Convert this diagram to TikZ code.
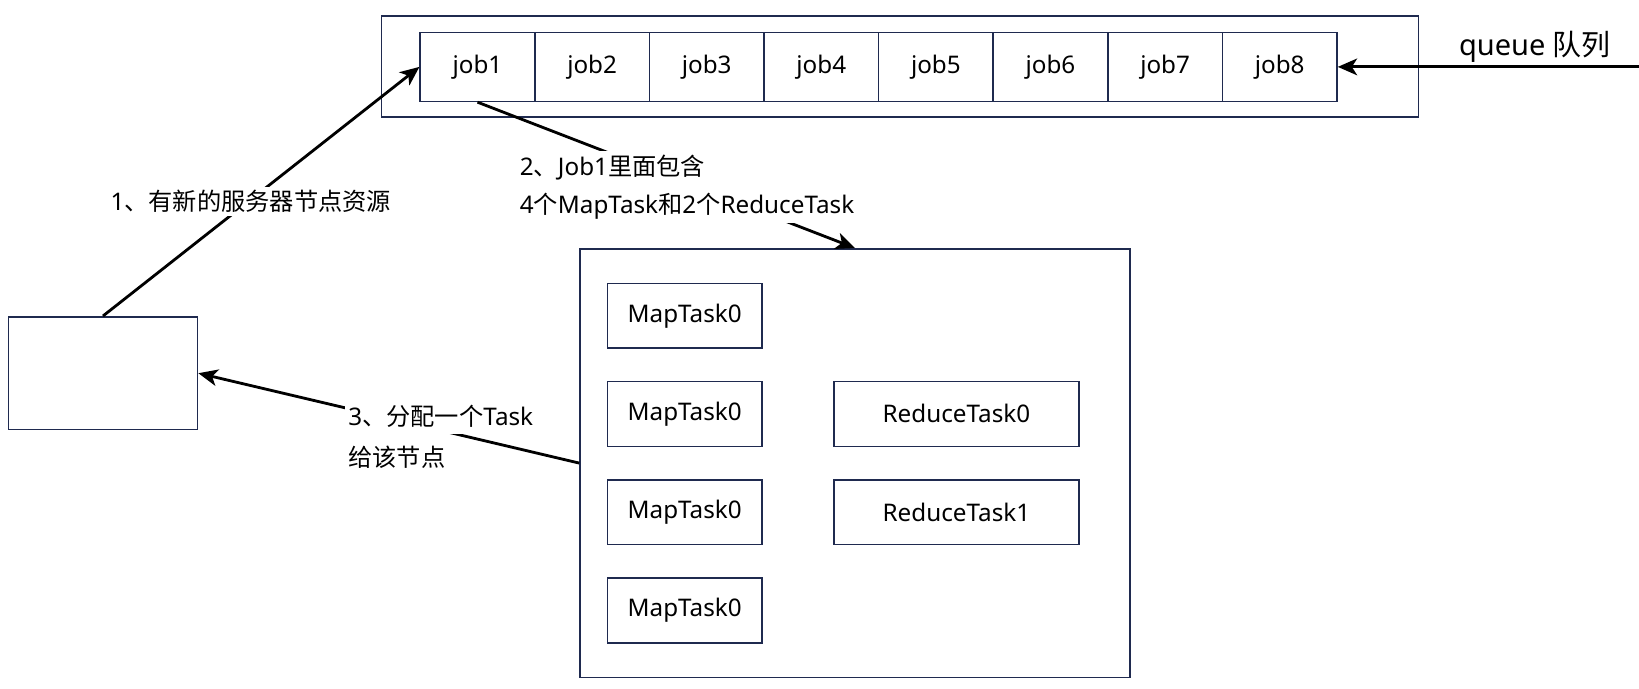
\documentclass[tikz,border=0pt]{standalone}
\usepackage{fontspec}
\setmainfont{Noto Sans}
\newfontfamily\cjk{Noto Sans CJK SC}
\usetikzlibrary{arrows.meta}
\definecolor{boxline}{HTML}{1F2A4F}

\begin{document}
\begin{tikzpicture}[x=0.02cm,y=-0.02cm,
  box/.style={draw=boxline,line width=0.9pt,inner sep=0pt,font=\fontsize{13.8}{22}\selectfont},
  job node/.style={box,minimum width=2.292cm,minimum height=1.38cm},
  map node/.style={box,minimum width=3.094cm,minimum height=1.296cm},
  reduce node/.style={box,minimum width=4.896cm,minimum height=1.296cm},
  arrow/.style={-{Stealth[length=11pt,width=9.5pt,inset=3pt]},line width=1.6pt,black},
  lbl/.style={fill=white,inner sep=2pt,align=left,font=\fontsize{13.8}{22}\selectfont}]

\useasboundingbox (0,0) rectangle (1639,689);

% queue of jobs
\node at (900,66.4) [box,minimum width=20.74cm,minimum height=2.026cm] (queue) {};
\foreach \i in {1,...,8}
  \node at ({420.2+114.6*(\i-0.5)},66.9) [job node] (job\i) {job\i};
\node at (1535,47) [font=\fontsize{16.5}{18}\selectfont] (qname) {queue {\cjk 队列}};
\coordinate (qin) at (1639,66.9);

% server node and the job's tasks
\node at (103,373.2) [box,minimum width=3.784cm,minimum height=2.258cm] (server) {};
\node at (855,463.1) [box,minimum width=11cm,minimum height=8.572cm] (tasks) {};
\node at (684.7,315.7) [map node] (map1) {MapTask0};
\node at (684.7,413.9) [map node] (map2) {MapTask0};
\node at (684.7,512.2) [map node] (map3) {MapTask0};
\node at (684.7,610.5) [map node] (map4) {MapTask0};
\node at (956.4,413.9) [reduce node] (red1) {ReduceTask0};
\node at (956.4,512.2) [reduce node] (red2) {ReduceTask1};

\draw [arrow] (qin) -- (job8.east);
\draw [arrow] (server.north) -- (job1.west);
\draw [arrow] (job1.south) -- (tasks.north);
\draw [arrow] (tasks.west) -- (server.east);

% step labels
\node at (250.9,201.7) [lbl] (step1) {1{\cjk 、有新的服务器节点资源}};
\node at (516,187) [lbl,anchor=west] (step2) {2{\cjk 、}Job1{\cjk 里面包含}\\4{\cjk 个}MapTask{\cjk 和}2{\cjk 个}ReduceTask};
\node at (344.5,416) [lbl,anchor=west,inner ysep=4pt] (step3) {3{\cjk 、分配一个}Task};
\node at (344.5,457) [lbl,anchor=west] (step3b) {{\cjk 给该节点}};
\end{tikzpicture}
\end{document}
